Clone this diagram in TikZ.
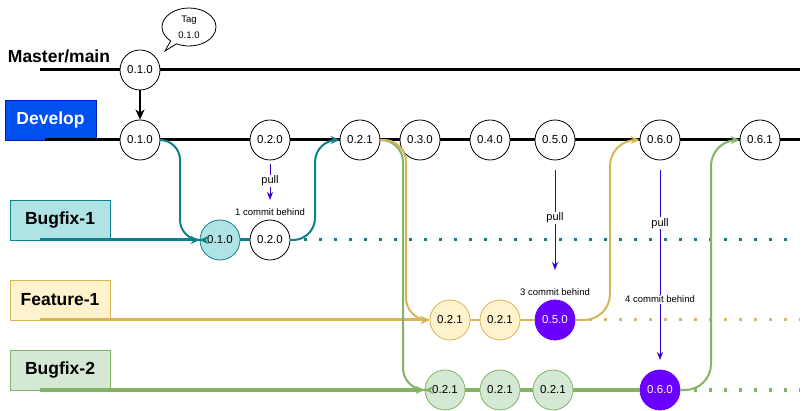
\documentclass[tikz,border=0pt]{standalone}
\usepackage{fontspec}
\setmainfont{Liberation Sans}
\usetikzlibrary{arrows.meta,shapes.callouts,shapes.geometric}
\definecolor{teal1}{HTML}{0E8088}
\definecolor{tealfill}{HTML}{B0E3E6}
\definecolor{yel1}{HTML}{D6B656}
\definecolor{yelfill}{HTML}{FFF2CC}
\definecolor{grn1}{HTML}{82B366}
\definecolor{grnfill}{HTML}{D5E8D4}
\definecolor{purp}{HTML}{6A00FF}
\definecolor{pullc}{HTML}{3700CC}
\definecolor{devblue}{HTML}{0050EF}
\definecolor{devborder}{HTML}{001DBC}
\tikzset{
  commit/.style={circle,draw=black,fill=white,line width=0.8pt,minimum size=40pt,inner sep=0pt,font=\fontsize{11.5}{13}\selectfont},
  tealc/.style={commit,draw=teal1,fill=tealfill},
  yelc/.style={commit,draw=yel1,fill=yelfill},
  grnc/.style={commit,draw=grn1,fill=grnfill},
  purpc/.style={commit,draw=purp,fill=purp,text=white},
  branchbox/.style={draw,minimum width=100pt,minimum height=40pt,inner sep=0pt,font=\bfseries\fontsize{17.5}{20}\selectfont},
  mainline/.style={line width=3pt,black},
  tip/.style={-{Stealth[length=9pt,width=8pt,inset=3pt]}},
  curve/.style={line width=2pt,rounded corners=22pt,tip},
  pullarrow/.style={pullc,line width=1pt,-{Stealth[length=8pt,width=6pt,inset=2.5pt]}},
  pulllabel/.style={fill=white,inner sep=1pt,text=black,font=\fontsize{11}{13}\selectfont},
  small/.style={inner sep=0pt,text=black,font=\fontsize{9.5}{11}\selectfont},
  dots/.style={line width=3pt,dash pattern=on 3pt off 12pt},
}
\begin{document}
\begin{tikzpicture}[x=1pt,y=-1pt]
\useasboundingbox (0,0) rectangle (803,411);
% labels
\node[font=\bfseries\fontsize{17.5}{20}\selectfont,inner sep=0pt] (mlabel) at (59,56) {Master/main};
\node[branchbox,fill=devblue,draw=devborder,text=white,minimum width=91pt] (devlabel) at (50.5,120) {Develop};
\node[branchbox,fill=tealfill,draw=teal1] (b1label) at (60,220) {Bugfix-1};
\node[branchbox,fill=yelfill,draw=yel1] (f1label) at (60,300) {Feature-1};
\node[branchbox,fill=grnfill,draw=grn1] (b2label) at (60,370) {Bugfix-2};
% coordinates
\coordinate (mstart) at (40,70);
\coordinate (mend) at (800,70);
\coordinate (dstart) at (45,140);
\coordinate (dend) at (800,140);
\coordinate (b1start) at (40,240);
\coordinate (b1end) at (792,240);
\coordinate (f1start) at (40,320);
\coordinate (f1end) at (800,320);
\coordinate (b2start) at (40,390);
\coordinate (b2end) at (800,390);
% master
\node[commit] (m010) at (140,70) {0.1.0};
\draw[mainline] (mstart) -- (m010);
\draw[mainline] (m010) -- (mend);
% develop
\node[commit] (d010) at (140,140) {0.1.0};
\node[commit] (d020) at (270,140) {0.2.0};
\node[commit] (d021) at (360,140) {0.2.1};
\node[commit] (d030) at (420,140) {0.3.0};
\node[commit] (d040) at (490,140) {0.4.0};
\node[commit] (d050) at (555,140) {0.5.0};
\node[commit] (d060) at (660,140) {0.6.0};
\node[commit] (d061) at (760,140) {0.6.1};
\draw[mainline] (dstart) -- (d010);
\draw[mainline] (d010) -- (d020);
\draw[mainline] (d020) -- (d021);
\draw[mainline] (d021) -- (d030);
\draw[mainline] (d030) -- (d040);
\draw[mainline] (d040) -- (d050);
\draw[mainline] (d050) -- (d060);
\draw[mainline] (d060) -- (d061);
\draw[mainline] (d061) -- (dend);
\draw[line width=1.5pt,-{Stealth[length=10pt,width=9pt,inset=3pt]}] (m010) -- (d010);
% tag callout
\coordinate (tagtip) at (165,51);
\node[ellipse callout,draw,fill=white,line width=0.8pt,minimum width=54pt,minimum height=38pt,inner sep=0pt,
  callout absolute pointer=(tagtip),align=center,font=\fontsize{9.5}{16}\selectfont] (tag) at (189,27) {Tag\\0.1.0};
% bugfix-1
\node[tealc] (b010) at (220,240) {0.1.0};
\node[commit] (b020) at (270,240) {0.2.0};
\draw[teal1,line width=3pt,tip] (b1start) -- (b010);
\draw[teal1,line width=3pt] (b010) -- (b020);
\draw[teal1,dots] (b020.east) ++(14,0) coordinate (b1dot) -- (b1end);
% feature-1
\node[yelc] (f021a) at (450,320) {0.2.1};
\node[yelc] (f021b) at (500,320) {0.2.1};
\node[purpc] (f050) at (555,320) {0.5.0};
\draw[yel1,line width=3pt,tip] (f1start) -- (f021a);
\draw[yel1,line width=1.5pt] (f021a) -- (f021b);
\draw[yel1,line width=1.5pt] (f021b) -- (f050);
\draw[yel1,dots] (f050.east) ++(14,0) coordinate (f1dot) -- (f1end);
% bugfix-2
\node[grnc] (g021a) at (445,390) {0.2.1};
\node[grnc] (g021b) at (500,390) {0.2.1};
\node[grnc] (g021c) at (553,390) {0.2.1};
\node[purpc] (g060) at (660,390) {0.6.0};
\draw[grn1,line width=3pt,tip] (b2start) -- (g021a);
\draw[grn1,line width=3pt] (g021a) -- (g021b);
\draw[grn1,line width=3pt] (g021b) -- (g021c);
\draw[grn1,line width=3pt] (g021c) -- (g060);
\draw[grn1,dots] (g060.east) ++(14,0) coordinate (b2dot) -- (b2end);
% merge / branch curves
\draw[teal1,curve,rounded corners=20pt] (d010.east) -- (180,140) -- (180,240) -- (b010.west);
\draw[teal1,curve] (b020.east) -- (315,240) -- (315,140) -- (d021.west);
\draw[grn1,curve] (d021.east) -- (403,140) -- (403,390) -- (g021a.west);
\draw[yel1,curve] (d021.east) -- (406,140) -- (406,320) -- (f021a.west);
\draw[yel1,curve,rounded corners=26pt] (f050.east) -- (610,320) -- (610,140) -- (d060.west);
\draw[grn1,curve,rounded corners=26pt] (g060.east) -- (711,390) -- (711,140) -- (d061.west);
% pulls
\coordinate (p1s) at (270,164);
\coordinate (p1e) at (270,200);
\coordinate (p2s) at (555,170);
\coordinate (p2e) at (555,270);
\coordinate (p3s) at (660,170);
\coordinate (p3e) at (660,360);
\draw[pullarrow] (p1s) -- node[pulllabel,pos=0.47] (pl1) {pull} (p1e);
\draw[pullarrow] (p2s) -- node[pulllabel,pos=0.48] (pl2) {pull} (p2e);
\draw[pullarrow] (p3s) -- node[pulllabel,pos=0.28] (pl3) {pull} node[small,fill=white,inner sep=1pt,pos=0.68] (cb4) {4 commit behind} (p3e);
\node[small] (cb1) at (270,212) {1 commit behind};
\node[small] (cb3) at (555,292) {3 commit behind};
\end{tikzpicture}
\end{document}
